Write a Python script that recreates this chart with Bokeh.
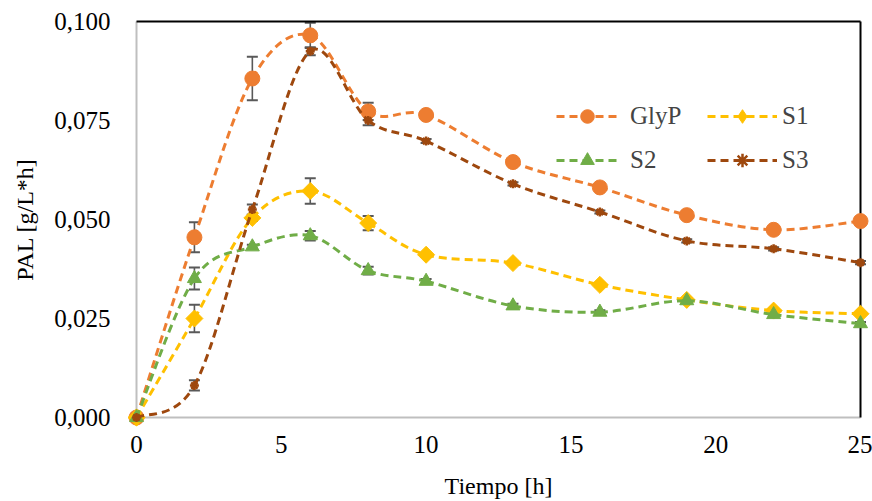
from bokeh.plotting import figure
from bokeh.models import (ColumnDataSource, Whisker, TeeHead, Legend, LegendItem,
                          FixedTicker, CustomJSTickFormatter, Range1d)
from bokeh.embed import file_html
from bokeh.resources import INLINE
import numpy as np

# Sampling times [h]
tiempo = [0, 2, 4, 6, 8, 10, 13, 16, 19, 22, 25]

# PAL activity [g/L*h] per culture
glyp = [0.0, 0.0455, 0.0856, 0.0965, 0.0773, 0.0764, 0.0645, 0.0581, 0.0511, 0.0474, 0.0496]
s1 = [0.0, 0.0250, 0.0504, 0.0572, 0.0491, 0.0411, 0.0390, 0.0335, 0.0297, 0.0270, 0.0262]
s2 = [0.0, 0.0351, 0.0431, 0.0459, 0.0371, 0.0344, 0.0282, 0.0266, 0.0295, 0.0260, 0.0237]
s3 = [0.0, 0.0081, 0.0525, 0.0925, 0.0750, 0.0698, 0.0590, 0.0519, 0.0446, 0.0426, 0.0391]

# Standard deviations
glyp_sd = [0.0, 0.0038, 0.0055, 0.0032, 0.0022, 0.0010, 0.0005, 0.0005, 0.0005, 0.0005, 0.0005]
s1_sd = [0.0, 0.0035, 0.0008, 0.0032, 0.0018, 0.0005, 0.0004, 0.0004, 0.0004, 0.0004, 0.0004]
s2_sd = [0.0, 0.0028, 0.0005, 0.0012, 0.0010, 0.0006, 0.0005, 0.0005, 0.0004, 0.0004, 0.0004]
s3_sd = [0.0, 0.0013, 0.0013, 0.0010, 0.0012, 0.0005, 0.0004, 0.0004, 0.0004, 0.0004, 0.0004]

series_names = ["GlyP", "S1", "S2", "S3"]
colors = ["#ED7D31", "#FFC000", "#70AD47", "#9E480E"]

x_ticks = [0, 5, 10, 15, 20, 25]
y_ticks = [0.0, 0.025, 0.05, 0.075, 0.1]

FONT = "'Liberation Serif'"

# The data box (0..25 h, 0..0.1) is 724 x 397 px; the frame gets a 10 px margin
# around it so that end markers are not cut off.
X0, X1 = x_ticks[0], x_ticks[-1]
Y0, Y1 = y_ticks[0], y_ticks[-1]
PAD = 10
px = (X1 - X0) * PAD / 724.0
py = (Y1 - Y0) * PAD / 397.0

p = figure(width=872, height=501, output_backend="svg", toolbar_location=None,
           x_range=Range1d(X0 - px, X1 + px), y_range=Range1d(Y0 - py, Y1 + py),
           min_border_left=126, min_border_right=2, min_border_top=11,
           min_border_bottom=73)
p.outline_line_color = None
p.background_fill_color = "white"
p.border_fill_color = "white"
p.xgrid.visible = False
p.ygrid.visible = False

for ax in (p.xaxis[0], p.yaxis[0]):
    ax.axis_line_color = None
    ax.major_tick_line_color = None
    ax.minor_tick_line_color = None
    ax.major_label_text_font = FONT
    ax.major_label_text_font_size = "25px"
    ax.major_label_text_color = "#000000"
    ax.axis_label_text_font = FONT
    ax.axis_label_text_font_size = "24px"
    ax.axis_label_text_font_style = "normal"
    ax.axis_label_text_color = "#000000"

p.xaxis.ticker = FixedTicker(ticks=x_ticks)
p.yaxis.ticker = FixedTicker(ticks=y_ticks)
p.yaxis.formatter = CustomJSTickFormatter(code="return tick.toFixed(3).replace('.', ',');")
p.xaxis.axis_label = "Tiempo [h]"
p.yaxis.axis_label = "PAL [g/L*h]"
p.xaxis.major_label_standoff = 2
p.xaxis.axis_label_standoff = 17
p.yaxis.major_label_standoff = 10
p.yaxis.axis_label_standoff = 13

# plot box: grey left/bottom axis lines, black top/right edges
p.segment(x0=[X0, X0], y0=[Y0, Y0], x1=[X0, X1], y1=[Y1, Y0],
          line_color="#BFBFBF", line_width=2)
p.segment(x0=[X0, X1], y0=[Y1, Y0], x1=[X1, X1], y1=[Y1, Y1],
          line_color="black", line_width=2)


def smooth_segments(xs, ys, t=1.0 / 6.0):
    """Cubic Bezier control points for a smoothed polyline through the points."""
    x = np.asarray(xs, float)
    y = np.asarray(ys, float)
    xp = np.concatenate([[x[0]], x, [x[-1]]])
    yp = np.concatenate([[y[0]], y, [y[-1]]])
    tx = (xp[2:] - xp[:-2]) * t
    ty = (yp[2:] - yp[:-2]) * t
    return dict(x0=x[:-1], y0=y[:-1], x1=x[1:], y1=y[1:],
                cx0=x[:-1] + tx[:-1], cy0=y[:-1] + ty[:-1],
                cx1=x[1:] - tx[1:], cy1=y[1:] - ty[1:])


values = [glyp, s1, s2, s3]
sds = [glyp_sd, s1_sd, s2_sd, s3_sd]
items = {}
for name, vals, sd, col in zip(series_names, values, sds, colors):
    seg = ColumnDataSource(smooth_segments(tiempo, vals))
    line_r = p.bezier(x0="x0", y0="y0", x1="x1", y1="y1", cx0="cx0", cy0="cy0",
                      cx1="cx1", cy1="cy1", source=seg, line_color=col,
                      line_width=3, line_dash="8 5")
    err = ColumnDataSource(dict(x=tiempo,
                                lo=[v - e for v, e in zip(vals, sd)],
                                hi=[v + e for v, e in zip(vals, sd)]))
    w = Whisker(base="x", lower="lo", upper="hi", source=err,
                line_color="#595959", line_width=1.6,
                upper_head=TeeHead(size=11, line_color="#595959", line_width=2),
                lower_head=TeeHead(size=11, line_color="#595959", line_width=2))
    p.add_layout(w)
    pts = ColumnDataSource(dict(x=tiempo, y=vals))
    if name == "GlyP":
        mk = p.scatter("x", "y", source=pts, marker="circle", size=15,
                       fill_color=col, line_color=col)
        key = mk
    elif name == "S1":
        mk = p.scatter("x", "y", source=pts, marker="square", size=12, angle=np.pi / 4,
                       fill_color=col, line_color=col)
        # upright diamond used as the legend key
        key = p.scatter(x=tiempo[:1], y=vals[:1], marker="diamond", size=17,
                        fill_color=col, line_color=col)
    elif name == "S2":
        mk = p.scatter("x", "y", source=pts, marker="triangle", size=14,
                       fill_color=col, line_color=col)
        key = mk
    else:
        mk = p.scatter("x", "y", source=pts, marker="asterisk", size=9,
                       line_color=col, line_width=2.5)
        key = mk
    items[name] = LegendItem(label=name, renderers=[line_r, key])

legend_style = dict(label_text_font=FONT, label_text_font_size="25px",
                    glyph_height=34, spacing=10, padding=0, margin=0,
                    border_line_color=None, background_fill_alpha=0)
leg_a = Legend(items=[items["GlyP"], items["S2"]], location=(430, 250),
               glyph_width=62, label_standoff=12, **legend_style)
leg_b = Legend(items=[items["S1"], items["S3"]], location=(581, 250),
               glyph_width=70, label_standoff=5, **legend_style)
p.add_layout(leg_a, "center")
p.add_layout(leg_b, "center")

open("out.html", "w").write(file_html(p, INLINE))
